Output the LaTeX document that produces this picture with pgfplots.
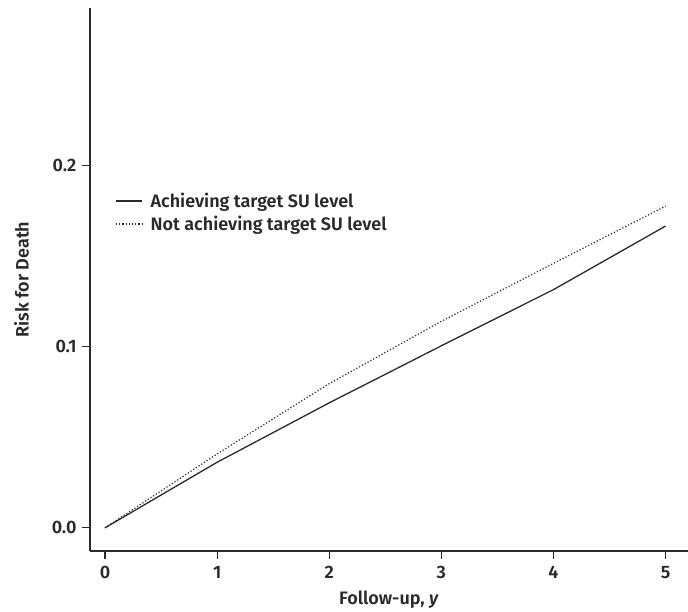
\documentclass[border=0pt]{standalone}
\usepackage{fontspec}
\setmainfont{Fira Sans}[UprightFont=* SemiBold, ItalicFont=* SemiBold Italic, BoldFont=* Bold]
\usepackage{pgfplots}
\pgfplotsset{compat=1.18}
\usetikzlibrary{calc}
\definecolor{ink}{HTML}{2A2A2A}
\begin{document}
\begin{tikzpicture}
\begin{axis}[
  name=ax,
  scale only axis,
  width=598pt, height=543pt,
  xmin=-0.134, xmax=5.2,
  ymin=-0.0128, ymax=0.287,
  axis lines*=left,
  axis line style={ink, line width=1.2pt},
  xtick={0,1,2,3,4,5},
  ytick={0,0.1,0.2},
  yticklabel style={/pgf/number format/fixed, /pgf/number format/fixed zerofill, /pgf/number format/precision=1, xshift=-2pt},
  /pgf/number format/assume math mode=true,
  tick style={ink, line width=1.1pt},
  tick align=outside,
  major tick length=8pt,
  ticklabel style={font=\fontsize{18}{21}\selectfont, text=ink},
  xticklabel style={yshift=-4pt},
  xlabel={Follow-up, \textit{y}},
  ylabel={Risk for Death},
  label style={font=\fontsize{18}{21}\selectfont, text=ink},
  xlabel style={yshift=-5pt},
  ylabel style={yshift=16pt},
  legend style={at={(0.037,0.667)}, anchor=north west, draw=none, fill=none,
    font=\fontsize{18}{21}\selectfont, text=ink, row sep=3pt},
  legend cell align=left,
  legend image code/.code={\draw[#1] (0pt,0pt) -- (26pt,0pt); \path (32pt,0pt);},
  clip=false,
]
\addplot[ink, line width=1.3pt] coordinates {
  (0,0) (1,0.0362) (2,0.0690) (3,0.1005) (4,0.1315) (5,0.1666)};
\addlegendentry{Achieving target SU level}
\addplot[ink, line width=1.2pt, dash pattern=on 1.2pt off 2pt] coordinates {
  (0,0) (1,0.0408) (2,0.0796) (3,0.1140) (4,0.1460) (5,0.1776)};
\addlegendentry{Not achieving target SU level}
\end{axis}
\pgfresetboundingbox
\path[use as bounding box] ($(ax.south west)+(-90pt,-61pt)$) rectangle ($(ax.north east)+(0pt,8pt)$);
\end{tikzpicture}
\end{document}
